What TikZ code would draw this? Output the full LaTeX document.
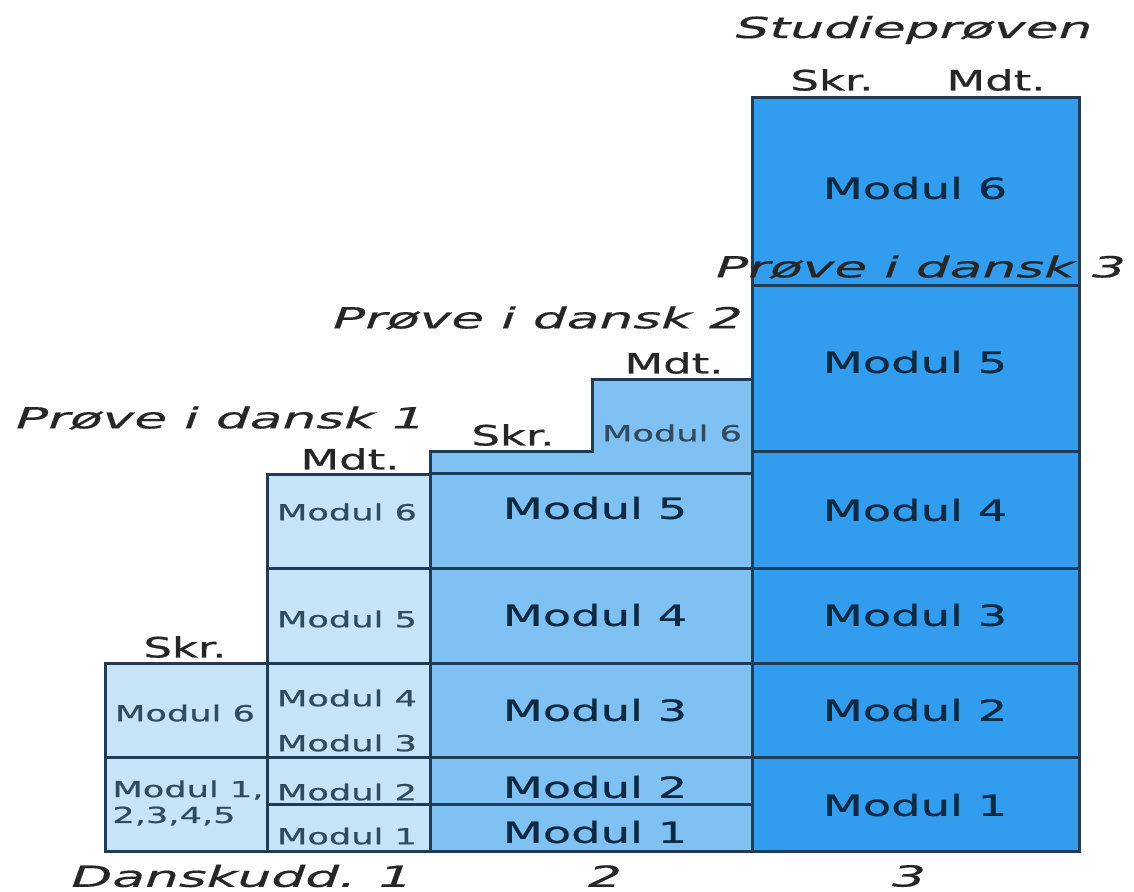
\documentclass[tikz,border=0pt]{standalone}
\usepackage{fontspec}
\newfontfamily\modfont{DejaVu Sans}[FakeStretch=1.6, FakeBold=0.9]
\newfontfamily\labfont{DejaVu Sans}[FakeStretch=1.84, FakeBold=0.5]
\definecolor{lys}{HTML}{C6E3F7}
\definecolor{mellem}{HTML}{80C1F3}
\definecolor{moerk}{HTML}{329DEE}
\definecolor{kant}{HTML}{1F3B55}
\definecolor{tekst}{HTML}{0E2A42}
\tikzset{
	felt/.style={draw=kant, line width=1.5pt},
	stor/.style={font=\modfont\fontsize{14.5}{17}\selectfont, text=tekst, inner sep=0pt},
	lille/.style={font=\modfont\fontsize{11}{13}\selectfont, text=tekst!85, inner sep=0pt},
	hoved/.style={font=\modfont\fontsize{14}{17}\selectfont, text=black!85, inner sep=0pt},
	prove/.style={font=\labfont\itshape\fontsize{14.5}{17}\selectfont, text=black!85, inner sep=0pt}
}

\begin{document}
\begin{tikzpicture}[x=0.5pt, y=-0.5pt]
			%%%%% START %%%%%
			\useasboundingbox (0, 0) rectangle (1134, 891);
			
			% Danskudd. 1, skriftlig
			\draw[felt, fill=lys] (105, 663) rectangle (267, 757);
			\draw[felt, fill=lys] (105, 757) rectangle (267, 851);
			
			% Danskudd. 1, mundtlig
			\draw[felt, fill=lys] (267, 474) rectangle (430, 568);
			\draw[felt, fill=lys] (267, 568) rectangle (430, 663);
			\draw[felt, fill=lys] (267, 663) rectangle (430, 757);
			\draw[felt, fill=lys] (267, 757) rectangle (430, 804);
			\draw[felt, fill=lys] (267, 804) rectangle (430, 851);
			
			% Danskudd. 2
			\draw[felt, fill=mellem] (430, 451) -- (592, 451) -- (592, 379) -- (752, 379) -- (752, 473) -- (430, 473) -- cycle;
			\draw[felt, fill=mellem] (430, 473) rectangle (752, 568);
			\draw[felt, fill=mellem] (430, 568) rectangle (752, 663);
			\draw[felt, fill=mellem] (430, 663) rectangle (752, 757);
			\draw[felt, fill=mellem] (430, 757) rectangle (752, 804);
			\draw[felt, fill=mellem] (430, 804) rectangle (752, 851);
			
			% Danskudd. 3
			\draw[felt, fill=moerk] (752, 97) rectangle (1079, 285);
			\draw[felt, fill=moerk] (752, 285) rectangle (1079, 451);
			\draw[felt, fill=moerk] (752, 451) rectangle (1079, 568);
			\draw[felt, fill=moerk] (752, 568) rectangle (1079, 663);
			\draw[felt, fill=moerk] (752, 663) rectangle (1079, 757);
			\draw[felt, fill=moerk] (752, 757) rectangle (1079, 851);
			
			\node[lille] (a6) at (185, 713) {Modul 6};
			\node[lille, anchor=west] (a1) at (112, 790) {Modul 1,};
			\node[lille, anchor=west] (a2) at (112, 816) {2,3,4,5};
			
			\node[lille] (b6) at (347, 512) {Modul 6};
			\node[lille] (b5) at (347, 619) {Modul 5};
			\node[lille] (b4) at (347, 698) {Modul 4};
			\node[lille] (b3) at (347, 743) {Modul 3};
			\node[lille] (b2) at (347, 792) {Modul 2};
			\node[lille] (b1) at (347, 836) {Modul 1};
			
			\node[lille] (c6) at (672, 433) {Modul 6};
			\node[stor] (c5) at (595, 508) {Modul 5};
			\node[stor] (c4) at (595, 615) {Modul 4};
			\node[stor] (c3) at (595, 710) {Modul 3};
			\node[stor] (c2) at (595, 787) {Modul 2};
			\node[stor] (c1) at (595, 832) {Modul 1};
			
			\node[stor] (d6) at (915, 188) {Modul 6};
			\node[stor] (d5) at (915, 362) {Modul 5};
			\node[stor] (d4) at (915, 510) {Modul 4};
			\node[stor] (d3) at (915, 615) {Modul 3};
			\node[stor] (d2) at (915, 710) {Modul 2};
			\node[stor] (d1) at (915, 805) {Modul 1};
			
			\node[hoved] (skr1) at (185, 647) {Skr.};
			\node[hoved] (mdt1) at (350, 459) {Mdt.};
			\node[hoved] (skr2) at (513, 435) {Skr.};
			\node[hoved] (mdt2) at (674, 363) {Mdt.};
			\node[hoved] (skr3) at (832, 80) {Skr.};
			\node[hoved] (mdt3) at (996, 80) {Mdt.};
			
			\node[prove] (pd1) at (221, 418) {Prøve i dansk 1};
			\node[prove] (pd2) at (538, 318) {Prøve i dansk 2};
			\node[prove] (pd3) at (921, 267) {Prøve i dansk 3};
			\node[prove] (stud) at (914, 30) {Studieprøven};
			
			\node[prove] (du1) at (242, 876) {Danskudd. 1};
			\node[prove] (du2) at (605, 876) {2};
			\node[prove] (du3) at (909, 876) {3};
			%%%%% END %%%%%
		\end{tikzpicture}
\end{document}
